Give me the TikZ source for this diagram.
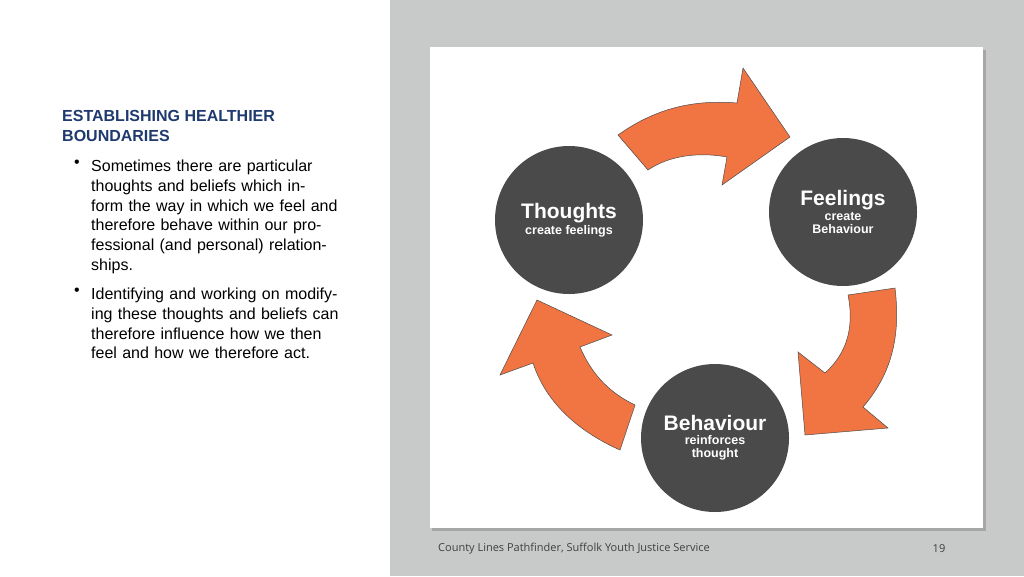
\documentclass[tikz,border=0pt]{standalone}
\usepackage{fontspec}
\setmainfont{Liberation Sans}
\newfontfamily\footfont{Open Sans}
\definecolor{navy}{HTML}{1F3A6E}
\definecolor{panel}{HTML}{C8C9C9}
\definecolor{disc}{HTML}{4A4A4A}
\definecolor{orng}{HTML}{F07542}
\begin{document}
\begin{tikzpicture}[x=1pt,y=-1pt,
  circ/.style={circle,fill=disc,minimum size=148pt,inner sep=0pt,text=white,align=center,font=\bfseries},
  bul/.style={anchor=north west,inner sep=0pt,text width=250pt,align=left,font=\fontsize{16}{19.7}\selectfont},
  dot/.style={anchor=north west,inner sep=0pt,font=\fontsize{16}{19.7}\selectfont},
  arr/.style={fill=orng,draw=black!70,line width=0.5pt}]
\useasboundingbox (0,0) rectangle (1024,576);
\fill[white] (0,0) rectangle (390,576);
\fill[panel] (390,0) rectangle (1024,576);
\fill[black!35] (432,50) rectangle (986,531);
\fill[white] (430,47) rectangle (983,528);
\node[anchor=north west,text=navy,font=\bfseries\fontsize{16}{20}\selectfont,align=left,inner sep=0pt] (title) at (62,110) {ESTABLISHING HEALTHIER\\BOUNDARIES};
\node[dot] (d1) at (74,160) {•};
\node[bul] (b1) at (91,160) {Sometimes there are particular thoughts and beliefs which inform the way in which we feel and therefore behave within our professional (and personal) relationships.};
\node[dot] (d2) at (74,288) {•};
\node[bul] (b2) at (91,288) {Identifying and working on modifying these thoughts and beliefs can therefore influence how we then feel and how we therefore act.};
\node[circ] (th) at (569,220) {{\fontsize{21}{23}\selectfont Thoughts}\\[2pt]{\fontsize{12.5}{14}\selectfont create feelings}};
\node[circ] (fe) at (843,212) {{\fontsize{21}{23}\selectfont Feelings}\\[2pt]{\fontsize{12.5}{14}\selectfont create}\\[1pt]{\fontsize{12.5}{14}\selectfont Behaviour}};
\node[circ] (be) at (715,438) {{\fontsize{21}{23}\selectfont Behaviour}\\[2pt]{\fontsize{12.5}{14}\selectfont reinforces}\\[1pt]{\fontsize{12.5}{14}\selectfont thought}};
\draw[arr] (618,135) .. controls (660,105) and (700,100) .. (737,103) -- (743,68) -- (790,137) -- (722,185) -- (727,157) .. controls (700,152) and (670,155) .. (648,170) -- cycle;
\draw[arr] (848,295) .. controls (855,330) and (845,355) .. (825,373) -- (798,352) -- (805,435) -- (888,428) -- (863,407) .. controls (895,370) and (900,330) .. (895,288) -- cycle;
\draw[arr] (620,450) .. controls (575,430) and (545,400) .. (533,363) -- (500,375) -- (537,300) -- (612,335) -- (580,347) .. controls (592,375) and (610,393) .. (635,405) -- cycle;
\node[anchor=west,inner sep=0pt,font=\footfont\fontsize{11}{13}\selectfont,text=black!75] (ft) at (438,549) {County Lines Pathfinder, Suffolk Youth Justice Service};
\node[inner sep=0pt,font=\footfont\fontsize{11}{13}\selectfont,text=black!75] (pg) at (939,549) {19};
\end{tikzpicture}
\end{document}
